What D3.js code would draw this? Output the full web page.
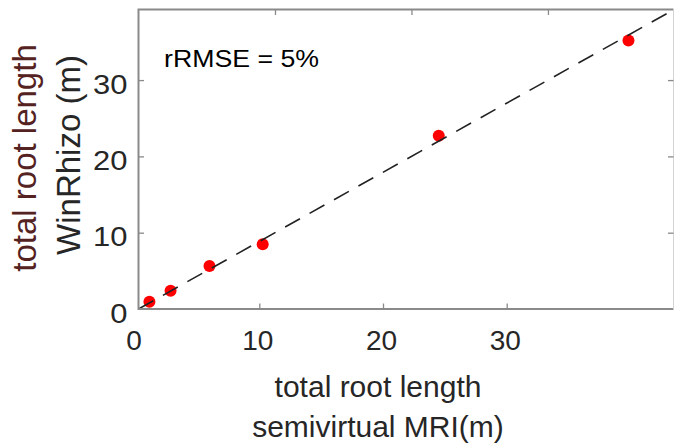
<!DOCTYPE html>
<html>
<head>
<meta charset="utf-8">
<script src="https://cdn.jsdelivr.net/npm/d3@7"></script>
<style>
  body { margin: 0; background: #fff; }
  svg { display: block; font-family: "Liberation Sans", Arial, sans-serif; }
</style>
</head>
<body>
<div id="chart"></div>
<script>
// semivirtual MRI vs WinRhizo total root length (m)
const mriLength = [0.8, 2.35, 5.2, 9.1, 22.0, 35.9];
const winRhizoLength = [0.95, 2.4, 5.65, 8.5, 22.7, 35.2];
const tickValues = [0, 10, 20, 30];
const refLine = [0, 40];   // 1:1 line
const statLabel = "rRMSE = 5%";

const W = 674, H = 447;
const plot = { left: 138.5, right: 673.5, top: 9.5, bottom: 309 };

const x = d3.scaleLinear().domain([0, 39.2]).range([plot.left, plot.right]);
const y = d3.scaleLinear().domain([0, 39.25]).range([plot.bottom, plot.top]);
// bottom tick row of the source figure is squeezed sideways
const xBottom = d3.scaleLinear().domain([0, 43.5]).range([135.6, 673.7]);

const svg = d3.select("#chart").append("svg")
    .attr("width", W)
    .attr("height", H);

svg.append("clipPath").attr("id", "clip")
  .append("rect")
    .attr("x", plot.left).attr("y", plot.top)
    .attr("width", plot.right - plot.left)
    .attr("height", plot.bottom - plot.top);

const axisColor = "#8a8a8a";
const textColor = "#262626";

// points
const pts = mriLength.map((v, i) => ({ x: v, y: winRhizoLength[i] }));
svg.append("g")
  .selectAll("circle")
  .data(pts)
  .enter().append("circle")
    .attr("cx", d => x(d.x))
    .attr("cy", d => y(d.y))
    .attr("r", 6)
    .attr("fill", "#ff0000");

// 1:1 dashed line (drawn over the points)
const line = d3.line()
    .x(d => x(d))
    .y(d => y(d));
svg.append("path")
    .datum(refLine)
    .attr("clip-path", "url(#clip)")
    .attr("fill", "none")
    .attr("stroke", "#222")
    .attr("stroke-width", 1.6)
    .attr("stroke-dasharray", "17,11")
    .attr("d", line);

// box: right edge is cut at the image border, so it stays faint
svg.append("path")
    .attr("d", `M${plot.right},${plot.top}H${plot.left}V${plot.bottom}H${plot.right}`)
    .attr("fill", "none")
    .attr("stroke", axisColor)
    .attr("stroke-width", 2);
svg.append("line")
    .attr("x1", plot.right).attr("x2", plot.right)
    .attr("y1", plot.top).attr("y2", plot.bottom)
    .attr("stroke", "#d4d4d4")
    .attr("stroke-width", 1);

function styleAxis(g) {
  g.select(".domain").remove();
  g.selectAll(".tick line").attr("stroke", axisColor).attr("stroke-width", 1.3);
}

// inward ticks on all four sides
svg.append("g")
    .attr("transform", `translate(0,${plot.top})`)
    .call(d3.axisBottom(x).tickValues(tickValues.slice(1)).tickSize(5.5).tickFormat(""))
    .call(styleAxis);
svg.append("g")
    .attr("transform", `translate(${plot.right},0)`)
    .call(d3.axisLeft(y).tickValues(tickValues.slice(1)).tickSize(5.5).tickFormat(""))
    .call(styleAxis);
svg.append("g")
    .attr("transform", `translate(${plot.left},0)`)
    .call(d3.axisRight(y).tickValues(tickValues.slice(1)).tickSize(5.5).tickFormat(""))
    .call(styleAxis);
svg.append("g")
    .attr("transform", `translate(0,${plot.bottom})`)
    .call(d3.axisTop(xBottom).tickValues(tickValues.slice(1)).tickSize(5.5).tickFormat(""))
    .call(styleAxis);

// tick labels
svg.append("g")
  .selectAll("text")
  .data(tickValues)
  .enter().append("text")
    .attr("x", d => xBottom(d) - 1.5)
    .attr("y", 350)
    .attr("text-anchor", "middle")
    .attr("font-size", 28)
    .attr("fill", textColor)
    .text(d => d);

svg.append("g")
  .selectAll("text")
  .data(tickValues)
  .enter().append("text")
    .attr("x", 127.5)
    .attr("y", d => y(d) + 13.5)
    .attr("text-anchor", "end")
    .attr("font-size", 28)
    .attr("fill", textColor)
    .attr("textLength", d => String(d).length * 17.2)
    .attr("lengthAdjust", "spacingAndGlyphs")
    .text(d => d);

// axis titles
const xTitle = svg.append("text")
    .attr("text-anchor", "middle")
    .attr("font-size", 30)
    .attr("fill", textColor);
xTitle.append("tspan").attr("x", 378).attr("y", 397).text("total root length");
xTitle.append("tspan").attr("x", 378).attr("y", 437).text("semivirtual MRI(m)");

svg.append("text")
    .attr("transform", "translate(36,158) rotate(-90)")
    .attr("text-anchor", "middle")
    .attr("font-size", 33)
    .attr("fill", "#552222")
    .text("total root length");
svg.append("text")
    .attr("transform", "translate(80,155) rotate(-90)")
    .attr("text-anchor", "middle")
    .attr("font-size", 33)
    .attr("fill", textColor)
    .text("WinRhizo (m)");

// annotation
svg.append("text")
    .attr("x", 164)
    .attr("y", 66.5)
    .attr("font-size", 23.5)
    .attr("fill", "#000")
    .attr("textLength", 155)
    .attr("lengthAdjust", "spacingAndGlyphs")
    .text(statLabel);
</script>
</body>
</html>
